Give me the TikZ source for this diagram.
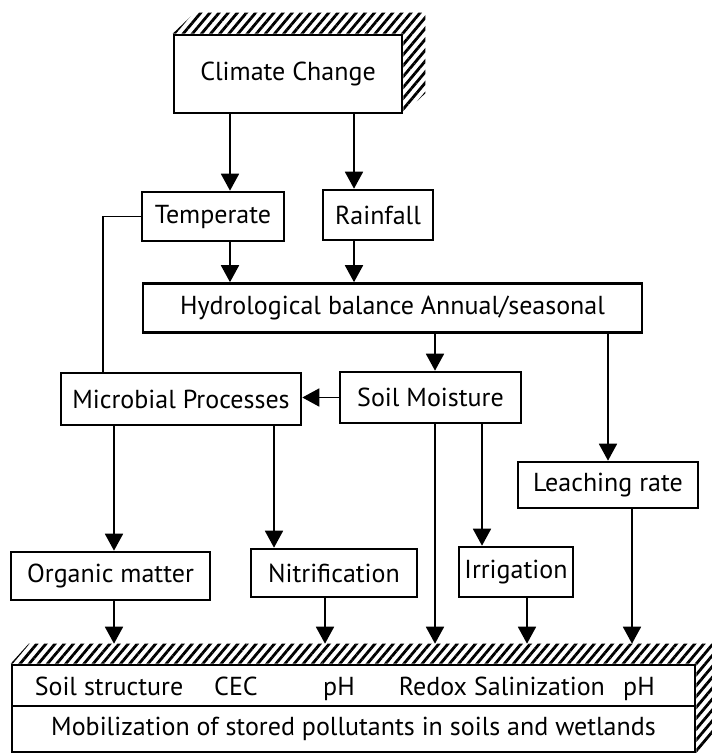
\documentclass[tikz,border=0pt]{standalone}
\usepackage{fontspec}
\setmainfont{PT Sans}
\usetikzlibrary{arrows.meta,calc,positioning,patterns.meta}

\begin{document}
\begin{tikzpicture}[
	x=1pt, y=-1pt,
	every node/.style = {font=\fontsize{26}{30}\selectfont, inner sep=0pt},
	box/.style = {draw, line width=2.6pt, rectangle},
	flow/.style = {-{Triangle[width=18pt,length=17pt]}, line width=1.8pt},
	link/.style = {line width=1.6pt},
	hatch/.style = {pattern={Lines[angle=50,distance=7pt,line width=2.8pt]}}
]
\useasboundingbox (0,0) rectangle (712,753);

% boxes
\node[box, minimum width=228pt, minimum height=78pt] (clim) at (288,74) {Climate Change};
\node[box, minimum width=142pt, minimum height=49pt] (temp) at (213,216.5) {Temperate};
\node[box, minimum width=110pt, minimum height=50pt] (rain) at (378,215) {Rainfall};
\node[box, minimum width=499pt, minimum height=49pt] (hydro) at (392.5,308) {Hydrological balance Annual/seasonal};
\node[box, minimum width=240pt, minimum height=52pt] (micro) at (181,399) {Microbial Processes};
\node[box, minimum width=181pt, minimum height=51pt] (soil) at (430.5,397.5) {Soil Moisture};
\node[box, minimum width=180pt, minimum height=46pt] (leach) at (608,485) {Leaching rate};
\node[box, minimum width=199pt, minimum height=48pt] (org) at (110.5,576) {Organic matter};
\node[box, minimum width=166pt, minimum height=48pt] (nitri) at (334,573) {Nitrification};
\node[box, minimum width=114pt, minimum height=50pt] (irri) at (516,572) {Irrigation};
\node[box, minimum width=683pt, minimum height=41pt] (eff) at (353.5,685.5) {};
\node[box, minimum width=683pt, minimum height=46pt] (mob) at (353.5,729) {Mobilization of stored pollutants in soils and wetlands};

% effects row
\node[anchor=base] (ss) at (109,695) {Soil structure};
\node[anchor=base] (cec) at (236,695) {CEC};
\node[anchor=base] (ph1) at (339,695) {pH};
\node[anchor=base] (redox) at (433,695) {Redox};
\node[anchor=base] (sal) at (539.5,695) {Salinization};
\node[anchor=base] (ph2) at (639,695) {pH};

% hatched sides
\fill[hatch] (clim.north west) -- ++(22,-21) -- ([shift={(22,-21)}]clim.north east)
	-- ([shift={(22,-21)}]clim.south east) -- (clim.south east) -- (clim.north east) -- cycle;
\fill[hatch] (eff.north west) -- ++(18,-20) -- ([shift={(18,-20)}]eff.north east)
	-- ([shift={(18,-20)}]mob.south east) -- (mob.south east) -- (eff.north east) -- cycle;
\coordinate (bt) at ([yshift=20pt]eff.north);

% arrow columns
\coordinate (tx) at (230,0);
\coordinate (rx) at (354,0);
\coordinate (lx) at (103,0);
\coordinate (ox) at (114,0);
\coordinate (nx) at (274,0);
\coordinate (sx) at (435,0);
\coordinate (ix) at (482,0);
\coordinate (px) at (325,0);
\coordinate (gx) at (527,0);
\coordinate (cx) at (632,0);

% connectors
\draw[flow] (clim.south -| tx) -- (temp.north -| tx);
\draw[flow] (clim.south -| rx) -- (rain.north -| rx);
\draw[flow] (temp.south -| tx) -- (hydro.north -| tx);
\draw[flow] (rain.south -| rx) -- (hydro.north -| rx);
\draw[flow] (hydro.south -| sx) -- (soil.north -| sx);
\draw[flow] (hydro.south -| leach.north) -- (leach.north);
\draw[flow] (soil.west) -- (soil.west -| micro.east);
\draw[link] (temp.west) -| (micro.north -| lx);
\draw[flow] (micro.south -| ox) -- (org.north -| ox);
\draw[flow] (micro.south -| nx) -- (nitri.north -| nx);
\draw[flow] (soil.south -| ix) -- (irri.north -| ix);
\draw[flow] (soil.south -| sx) -- (bt -| sx);
\draw[flow] (org.south -| ox) -- (bt -| ox);
\draw[flow] (nitri.south -| px) -- (bt -| px);
\draw[flow] (irri.south -| gx) -- (bt -| gx);
\draw[flow] (leach.south -| cx) -- (bt -| cx);
\end{tikzpicture}
\end{document}
